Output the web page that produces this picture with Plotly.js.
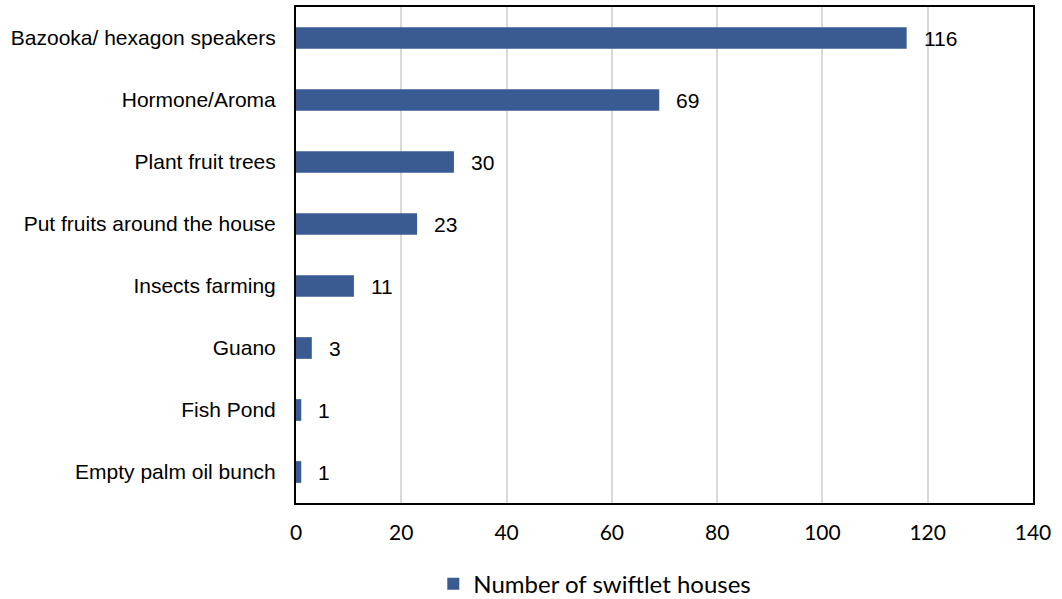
<!DOCTYPE html>
<html>
<head>
<meta charset="utf-8">
<script src="https://cdn.plot.ly/plotly-3.0.1.min.js"></script>
<style>html,body{margin:0;padding:0;background:#fff;}#chart{width:1062px;height:599px;}</style>
</head>
<body>
<div id="chart"></div>
<script>
const categories = ["Bazooka/ hexagon speakers", "Hormone/Aroma", "Plant fruit trees", "Put fruits around the house", "Insects farming", "Guano", "Fish Pond", "Empty palm oil bunch"];
const values = [116, 69, 30, 23, 11, 3, 1, 1];
const seriesName = "Number of swiftlet houses";
const xTicks = [0, 20, 40, 60, 80, 100, 120, 140];

const trace = {
  type: 'bar',
  orientation: 'h',
  x: values,
  y: categories,
  name: seriesName,
  width: 0.35,
  marker: {color: '#3a5a92'},
  showlegend: true,
  hoverinfo: 'x+y'
};

const annotations = values.map((v, i) => ({
  x: v, y: categories[i], xref: 'x', yref: 'y',
  text: String(v), showarrow: false, xanchor: 'left', yanchor: 'middle',
  xshift: 15, font: {family: 'Liberation Sans, Arial', size: 21, color: '#000'}
}));

const layout = {
  width: 1062, height: 599,
  margin: {l: 296, r: 29, t: 7, b: 96},
  paper_bgcolor: '#fff', plot_bgcolor: '#fff',
  bargap: 0.65,
  xaxis: {
    range: [0, 140], tickvals: xTicks, ticktext: xTicks.map(String),
    showgrid: true, gridcolor: '#d9d9d9', gridwidth: 2,
    showline: true, linecolor: '#000', linewidth: 2, mirror: true,
    zeroline: false, ticks: '', ticklabelstandoff: 10,
    tickfont: {family: 'Lato, Liberation Sans, Arial', size: 21, color: '#000'}
  },
  yaxis: {
    categoryorder: 'array', categoryarray: categories, autorange: 'reversed',
    showline: true, linecolor: '#000', linewidth: 2, mirror: true,
    showgrid: false, ticks: '', ticklabelstandoff: 14,
    tickfont: {family: 'Liberation Sans, Arial', size: 21, color: '#000'}
  },
  showlegend: true,
  legend: {
    orientation: 'h', xref: 'container', yref: 'container',
    x: 0.408, xanchor: 'left', y: 0.025, yanchor: 'middle',
    font: {family: 'Lato, Liberation Sans, Arial', size: 24, color: '#000'},
    itemwidth: 30
  },
  annotations: annotations
};

Plotly.newPlot('chart', [trace], layout, {displayModeBar: false, staticPlot: true});
</script>
</body>
</html>
